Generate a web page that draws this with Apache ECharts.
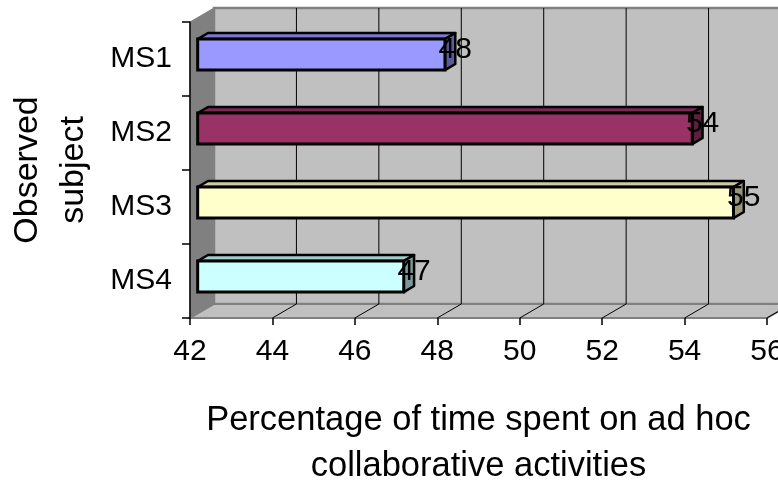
<!DOCTYPE html>
<html>
<head>
<meta charset="utf-8">
<script src="https://cdn.jsdelivr.net/npm/echarts@6/dist/echarts.min.js"></script>
<style>
  html, body { margin: 0; padding: 0; background: #fff; }
  #chart { width: 778px; height: 481px; }
</style>
</head>
<body>
<div id="chart"></div>
<script>
// data
const categories = ['MS1', 'MS2', 'MS3', 'MS4']
const values = [48, 54, 55, 47]
const barColors = ['#9999FF', '#993366', '#FFFFCC', '#CCFFFF']
const xMin = 42
const xMax = 56
const xStep = 2

// 3d look (depth offset of the back wall, in px)
const DX = 24
const DY = -14
const FRONT = 0.32 // bar front face depth
const BACK = 0.75 // bar back face depth
const FONT = '"Liberation Sans", Arial, sans-serif'

function shade(hex, k) {
	const n = parseInt(hex.slice(1), 16)
	const r = Math.round(((n >> 16) & 255) * k)
	const g = Math.round(((n >> 8) & 255) * k)
	const b = Math.round((n & 255) * k)
	return 'rgb(' + r + ',' + g + ',' + b + ')'
}

const chart = echarts.init(document.getElementById('chart'))

// walls + floor, built from the grid rect and the axis scale
function renderWalls(params, api) {
	const cs = params.coordSys
	const x0 = cs.x, y0 = cs.y, x1 = cs.x + cs.width, y1 = cs.y + cs.height
	const children = [
		{
			type: 'polygon',
			shape: { points: [[x0 + DX, y0 + DY], [x1 + DX, y0 + DY], [x1 + DX, y1 + DY], [x0 + DX, y1 + DY]] },
			style: { fill: '#C0C0C0', stroke: '#808080', lineWidth: 2.5 }
		},
		{
			type: 'polygon',
			shape: { points: [[x0, y0], [x0 + DX, y0 + DY], [x0 + DX, y1 + DY], [x0, y1]] },
			style: { fill: '#808080', stroke: '#808080', lineWidth: 1 }
		},
		{
			type: 'polygon',
			shape: { points: [[x0, y1], [x1, y1], [x1 + DX, y1 + DY], [x0 + DX, y1 + DY]] },
			style: { fill: '#C0C0C0', stroke: '#808080', lineWidth: 2 }
		}
	]
	for (let v = xMin + xStep; v <= xMax; v += xStep) {
		const px = api.coord([v, 0])[0]
		// gridline on the back wall
		if (v < xMax) {
			children.push({
				type: 'line',
				shape: { x1: px + DX, y1: y0 + DY, x2: px + DX, y2: y1 + DY },
				style: { stroke: '#000', lineWidth: 1 }
			})
		}
		// slant on the floor
		children.push({
			type: 'line',
			shape: { x1: px, y1: y1, x2: px + DX, y2: y1 + DY },
			style: { stroke: '#000', lineWidth: 1 }
		})
	}
	return { type: 'group', children: children }
}

function renderBar(params, api) {
	const v = api.value(0)
	const i = api.value(1)
	const start = api.coord([xMin, i])
	const end = api.coord([v, i])
	const h = api.size([0, 1])[1] * 0.42
	const fx = DX * FRONT, fy = DY * FRONT
	const bx = DX * BACK, by = DY * BACK
	const cy = start[1]
	const color = barColors[i]
	const top = cy - h / 2, bot = cy + h / 2
	return {
		type: 'group',
		children: [
			{
				type: 'polygon',
				shape: { points: [[start[0] + fx, top + fy], [end[0] + fx, top + fy], [end[0] + bx, top + by], [start[0] + bx, top + by]] },
				style: { fill: shade(color, 0.8), stroke: '#000', lineWidth: 2.5, lineJoin: 'round' }
			},
			{
				type: 'polygon',
				shape: { points: [[end[0] + fx, top + fy], [end[0] + bx, top + by], [end[0] + bx, bot + by], [end[0] + fx, bot + fy]] },
				style: { fill: shade(color, 0.6), stroke: '#000', lineWidth: 2.5, lineJoin: 'round' }
			},
			{
				type: 'rect',
				shape: { x: start[0] + fx, y: top + fy, width: end[0] - start[0], height: h },
				style: { fill: color, stroke: '#000', lineWidth: 3 }
			},
			{
				type: 'text',
				style: {
					text: String(v),
					x: end[0] + bx,
					y: cy + by + 1,
					align: 'center',
					verticalAlign: 'middle',
					fontSize: 30,
					fontFamily: FONT,
					fill: '#000'
				}
			}
		]
	}
}

const option = {
	animation: false,
	grid: { left: 190, right: 11, top: 22, bottom: 163, outerBoundsMode: 'none', containLabel: false },
	xAxis: {
		type: 'value',
		min: xMin,
		max: xMax,
		interval: xStep,
		z: 3,
		name: 'Percentage of time spent on ad hoc\ncollaborative activities',
		nameLocation: 'middle',
		nameGap: 79,
		nameTextStyle: { fontSize: 34.5, fontFamily: FONT, color: '#000', lineHeight: 46 },
		axisLine: { lineStyle: { color: '#000', width: 1.5 } },
		axisTick: { show: true, length: 7, lineStyle: { color: '#000', width: 1.5 } },
		axisLabel: { fontSize: 30, fontFamily: FONT, color: '#000', margin: 19 },
		splitLine: { show: false }
	},
	yAxis: {
		type: 'category',
		data: categories,
		inverse: true,
		z: 3,
		name: 'Observed\nsubject',
		nameLocation: 'middle',
		nameGap: 93,
		nameTextStyle: { fontSize: 34, fontFamily: FONT, color: '#000', lineHeight: 46 },
		axisLine: { lineStyle: { color: '#000', width: 1.5 } },
		axisTick: { show: true, length: 8, lineStyle: { color: '#000', width: 1.5 } },
		axisLabel: { fontSize: 30, fontFamily: FONT, color: '#000', margin: 18 },
		splitLine: { show: false }
	},
	series: [
		{
			type: 'custom',
			z: 1,
			silent: true,
			renderItem: renderWalls,
			data: [[xMin, 0]]
		},
		{
			type: 'custom',
			z: 4,
			renderItem: renderBar,
			encode: { x: 0, y: 1 },
			data: values.map((v, i) => [v, i])
		}
	]
}
chart.setOption(option)
</script>
</body>
</html>
